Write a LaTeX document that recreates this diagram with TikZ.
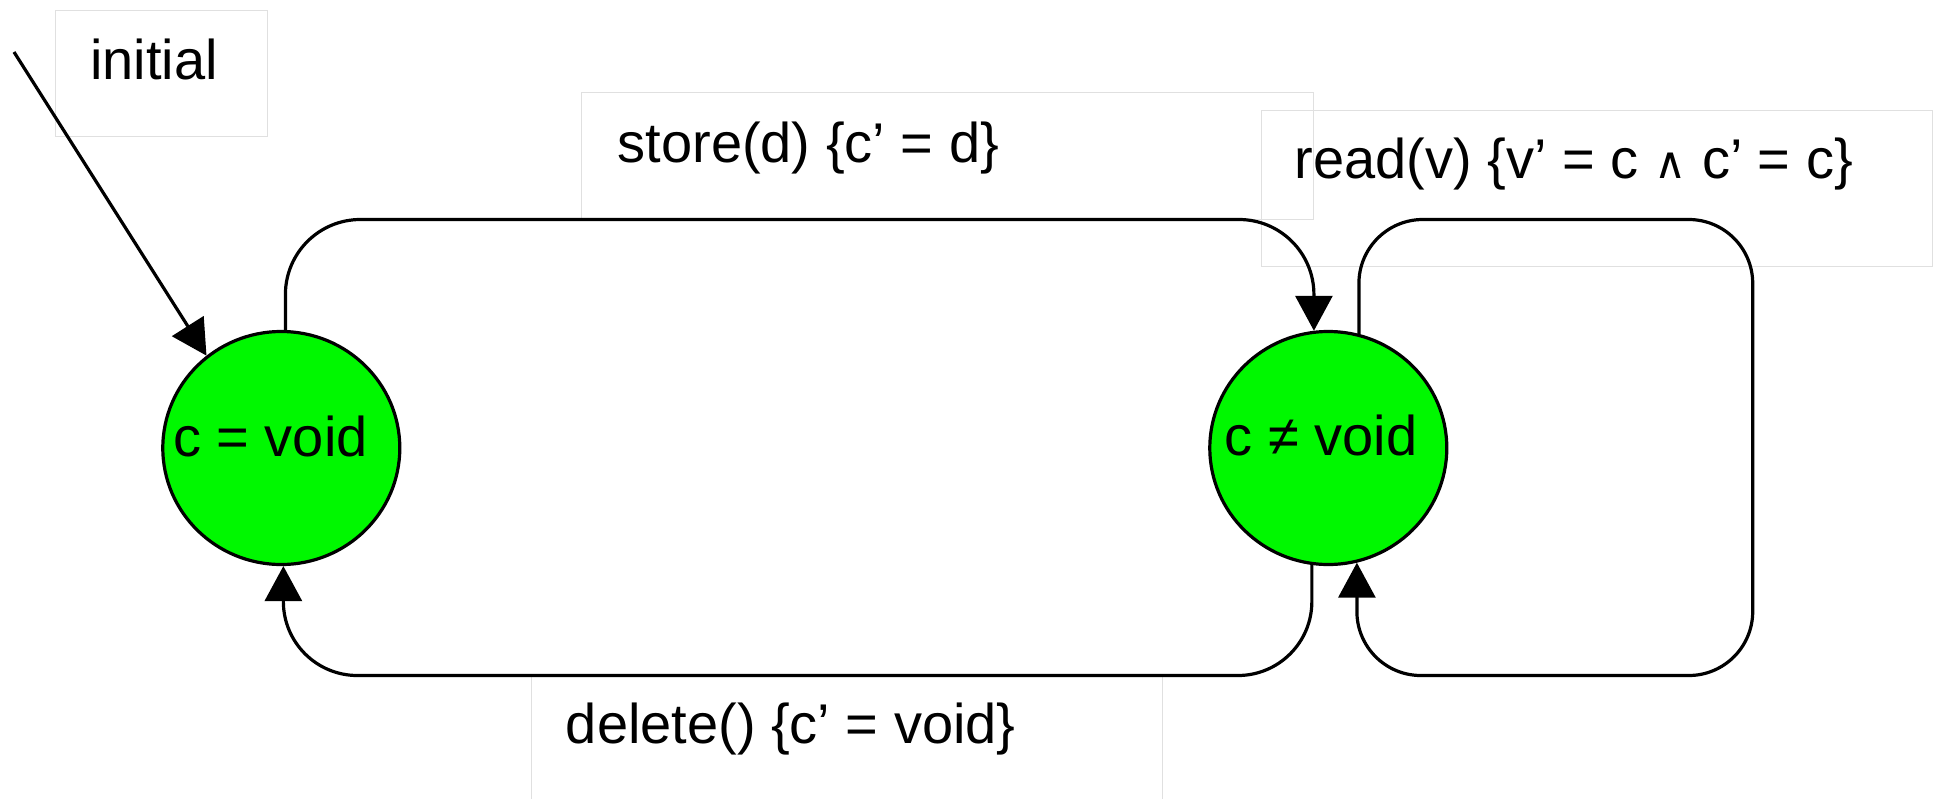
\documentclass[tikz,border=0pt]{standalone}
\usepackage{fontspec}
\setmainfont{Liberation Sans}
\newfontfamily\symfont{DejaVu Sans}
\usetikzlibrary{arrows.meta,shapes.geometric}
\definecolor{stategreen}{RGB}{0,248,0}
\definecolor{boxgray}{RGB}{224,224,224}
\newcommand{\andsym}{{\symfont\fontsize{44}{44}\selectfont ∧}}
\begin{document}
\begin{tikzpicture}[x=1pt,y=-1pt]
\tikzset{
  state/.style={ellipse, draw=black, line width=3.2pt, fill=stategreen,
    minimum width=237pt, minimum height=233pt, inner sep=0pt},
  lbox/.style={draw=boxgray, line width=1pt},
  txt/.style={anchor=base west, inner sep=0pt, font=\fontsize{56}{67}\selectfont},
  edge/.style={draw=black, line width=3.2pt, -{Triangle[length=35pt,width=37pt]}},
}
\useasboundingbox (0,0) rectangle (1934,798);

% label boxes
\draw[lbox] (55,10) rectangle (267,136);
\draw[lbox] (581,92.7) rectangle (1313,219.5);
\draw[lbox] (1261.7,110) rectangle (1932,266);
\draw[lbox] (531.6,800) -- (531.6,675.5) -- (1162,675.5) -- (1162,800);

% states
\node[state] (s1) at (281.3,448) {};
\node[state] (s2) at (1328.3,448) {};
\node[txt] (l1) at (173,456) {c = void};
\node[txt] (l2) at (1224.5,455) {c ≠ void};

% connector waypoints
\coordinate (init) at (14,52);
\coordinate (storetop) at (800,219.5);
\coordinate (delbot) at (800,675.5);
\coordinate (rtr) at (1752.7,219.5);
\coordinate (rbr) at (1752.7,675.5);

% connectors
\draw[edge] (init) -- (s1.129.25);
\draw[edge, rounded corners=75pt] (s1.88.67) |- (storetop) -| (s2.97.7);
\draw[edge, rounded corners=74pt] (s2.262.1) |- (delbot) -| (s1.271.33);
\draw[edge, rounded corners=64pt] (s2.75.65) |- (rtr) -- (rbr) -| (s2.284.35);

% labels
\node[txt] (tinit) at (90,79) {initial};
\node[txt] (tstore) at (617.5,162.3) {store(d) \{c’ = d\}};
\node[txt] (tread) at (1294.6,178.3) {read(v) \{v’ = c \andsym\ c’ = c\}};
\node[txt] (tdel) at (565.7,743.3) {delete() \{c’ = void\}};
\end{tikzpicture}
\end{document}
